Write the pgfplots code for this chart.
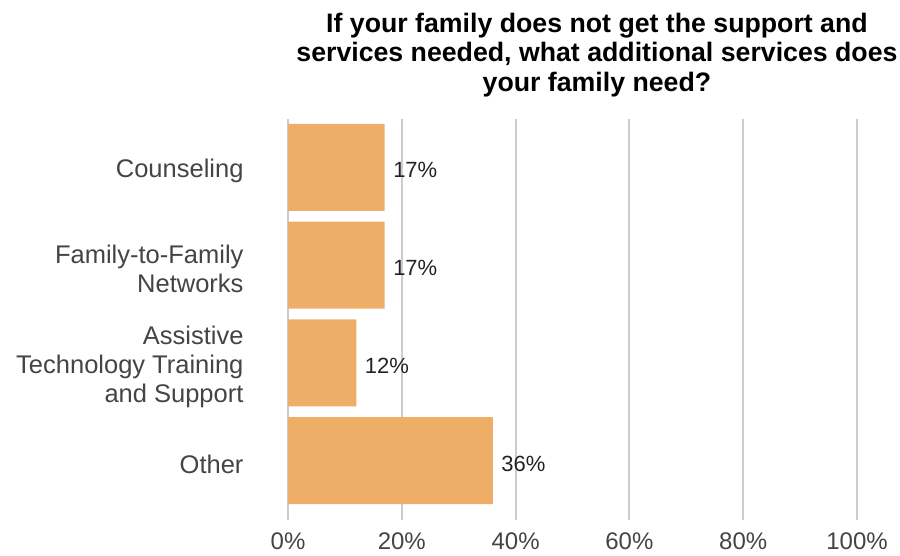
\documentclass[border=0pt]{standalone}
\usepackage{fontspec}
\setmainfont{Liberation Sans}
\usepackage{pgfplots}
\pgfplotsset{compat=1.18}
\definecolor{barc}{HTML}{EFAE68}
\definecolor{gridc}{HTML}{CCCCCC}
\definecolor{labc}{HTML}{444444}
\definecolor{valc}{HTML}{222222}
\begin{document}
\begin{tikzpicture}[x=1pt,y=1pt]
\path[use as bounding box] (0,0) rectangle (900,555);
\begin{axis}[
 at={(288pt,45.5pt)}, anchor=south west,
 scale only axis, width=569pt, height=391pt,
 xbar, bar width=0.89,
 xmin=0, xmax=100, ymin=-0.5, ymax=3.5,
 xtick={0,20,40,60,80,100},
 xticklabels={0\%,20\%,40\%,60\%,80\%,100\%},
 ytick={0,1,2,3},
 yticklabels={Other, {Assistive\\Technology Training\\and Support}, {Family-to-Family\\Networks}, Counseling},
 yticklabel style={align=right, font=\fontsize{25.5}{29}\selectfont, text=labc, xshift=-31pt, yshift=-4pt},
 xticklabel style={font=\fontsize{24}{29}\selectfont, text=labc, yshift=-10pt},
 axis line style={draw=none},
 xmajorgrids, grid style={gridc, line width=2pt},
 xtick pos=bottom, tick align=outside, major tick length=10pt,
 xtick style={gridc, line width=2pt},
 ytick style={draw=none},
 nodes near coords={\pgfmathprintnumber{\pgfplotspointmeta}\%},
 nodes near coords style={anchor=west, font=\fontsize{22}{26}\selectfont, text=valc, xshift=5pt, yshift=-3pt},
 /pgf/number format/assume math mode=true,
 title={If your family does not get the support and\\services needed, what additional services does\\your family need?},
 title style={at={(axis description cs:0.543,1)}, anchor=south, align=center, font=\bfseries\fontsize{26.7}{29.5}\selectfont, text=black, yshift=12pt},
]
\addplot[fill=barc, draw=none] coordinates {(36,0) (12,1) (17,2) (17,3)};
\end{axis}
\end{tikzpicture}
\end{document}
